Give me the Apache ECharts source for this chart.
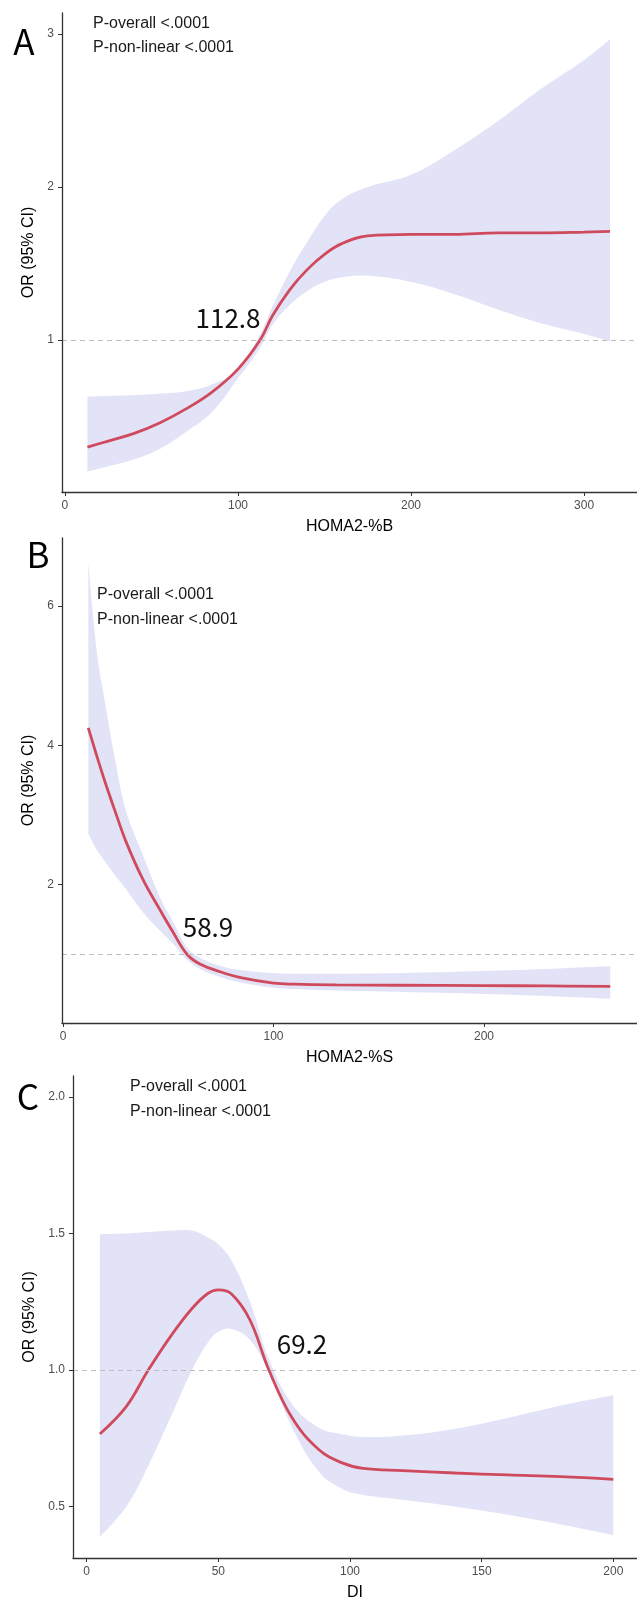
<!DOCTYPE html>
<html>
<head>
<meta charset="utf-8">
<script src="https://cdn.jsdelivr.net/npm/echarts@6/dist/echarts.min.js"></script>
<style>
html, body { margin: 0; padding: 0; background: #fff; }
#main { width: 637px; height: 1604px; }
</style>
</head>
<body>
<div id="main"></div>
<script>
// panel A: HOMA2-%B
var aX = [13, 25, 40, 55, 70, 85, 100, 112.8, 120, 130, 140, 150, 160, 175, 200, 225, 250, 275, 300, 315];
var aOR = [0.30, 0.34, 0.39, 0.46, 0.55, 0.66, 0.81, 1.00, 1.16, 1.33, 1.46, 1.56, 1.63, 1.68, 1.69, 1.69, 1.70, 1.70, 1.705, 1.71];
var aUpper = [0.63, 0.635, 0.64, 0.65, 0.665, 0.71, 0.81, 1.04, 1.22, 1.45, 1.64, 1.81, 1.92, 2.00, 2.08, 2.24, 2.43, 2.64, 2.83, 2.965];
var aLower = [0.14, 0.175, 0.22, 0.29, 0.40, 0.53, 0.75, 0.95, 1.10, 1.23, 1.32, 1.38, 1.41, 1.42, 1.38, 1.30, 1.20, 1.11, 1.04, 0.99];

// panel B: HOMA2-%S
var bX = [12, 16, 20, 25, 30, 38, 46, 52, 58.9, 65, 75, 85, 100, 110, 130, 160, 200, 230, 260];
var bOR = [4.25, 3.85, 3.47, 3.03, 2.61, 2.07, 1.64, 1.33, 1.00, 0.86, 0.745, 0.66, 0.585, 0.57, 0.56, 0.555, 0.55, 0.545, 0.54];
var bUpper = [6.63, 5.35, 4.6, 3.75, 3.05, 2.42, 1.82, 1.48, 1.10, 0.95, 0.83, 0.77, 0.73, 0.72, 0.72, 0.73, 0.76, 0.79, 0.83];
var bLower = [2.73, 2.5, 2.33, 2.12, 1.93, 1.6, 1.34, 1.16, 0.92, 0.79, 0.67, 0.59, 0.52, 0.50, 0.48, 0.46, 0.43, 0.40, 0.36];

// panel C: DI
var cX = [5, 15, 23.4, 32, 40, 46, 50, 55, 62, 69.2, 78, 88, 97, 105, 120, 140, 160, 180, 200];
var cOR = [0.766, 0.866, 1.0, 1.125, 1.225, 1.28, 1.293, 1.278, 1.183, 1.0, 0.825, 0.71, 0.66, 0.64, 0.632, 0.623, 0.616, 0.61, 0.60];
var cUpper = [1.497, 1.50, 1.505, 1.51, 1.51, 1.485, 1.46, 1.40, 1.25, 1.04, 0.875, 0.79, 0.765, 0.755, 0.76, 0.785, 0.825, 0.87, 0.908];
var cLower = [0.39, 0.50, 0.65, 0.83, 1.0, 1.10, 1.14, 1.15, 1.11, 0.99, 0.79, 0.63, 0.565, 0.543, 0.525, 0.50, 0.47, 0.435, 0.396];

// tick labels
var aXTicks = [0, 100, 200, 300], aYTicks = [1, 2, 3];
var bXTicks = [0, 100, 200], bYTicks = [2, 4, 6];
var cXTicks = [0, 50, 100, 150, 200], cYTicks = [0.5, 1.0, 1.5, 2.0];

var xNames = ['HOMA2-%B', 'HOMA2-%S', 'DI'];
var cutoffs = ['112.8', '58.9', '69.2'];
var panelLetters = ['A', 'B', 'C'];

var LINE_COLOR = '#cf4a5c';
var BAND_COLOR = '#e3e3f8';
var AXIS_COLOR = '#333';
var LABEL_FONT = '"Liberation Sans", Arial, sans-serif';
var BIG_FONT = '"Noto Sans CJK SC", "Noto Sans", sans-serif';
var SMOOTH = 0.4;

function pairs(xs, ys) {
    return xs.map(function (x, i) { return [x, ys[i]]; });
}

// same bezier smoothing as the line series, sampled into a dense point list
function smoothPoints(pts, s) {
    var out = [pts[0]];
    var cp0 = pts[0];
    for (var i = 1; i < pts.length; i++) {
        var p = pts[i], prev = pts[i - 1], next = pts[i + 1];
        var cp1 = p, nextCp0 = p;
        if (next) {
            var vx = next[0] - prev[0], vy = next[1] - prev[1];
            var l0 = Math.sqrt(Math.pow(p[0] - prev[0], 2) + Math.pow(p[1] - prev[1], 2));
            var l1 = Math.sqrt(Math.pow(next[0] - p[0], 2) + Math.pow(next[1] - p[1], 2));
            var r = l1 / (l0 + l1);
            cp1 = [p[0] - vx * s * (1 - r), p[1] - vy * s * (1 - r)];
            nextCp0 = [p[0] + vx * s * r, p[1] + vy * s * r];
        }
        for (var k = 1; k <= 16; k++) {
            var t = k / 16, u = 1 - t;
            var a = u * u * u, b = 3 * u * u * t, c = 3 * u * t * t, d = t * t * t;
            out.push([
                a * prev[0] + b * cp0[0] + c * cp1[0] + d * p[0],
                a * prev[1] + b * cp0[1] + c * cp1[1] + d * p[1]
            ]);
        }
        cp0 = nextCp0;
    }
    return out;
}

function makeXAxis(idx, min, max, ticks) {
    return {
        type: 'value', gridIndex: idx, min: min, max: max, z: 5,
        name: xNames[idx], nameLocation: 'middle', nameGap: 27,
        nameTextStyle: { color: '#000', fontSize: 16, fontFamily: LABEL_FONT },
        axisLine: { onZero: false, lineStyle: { color: AXIS_COLOR, width: 1.3 } },
        axisTick: { show: true, length: 4, customValues: ticks, lineStyle: { color: AXIS_COLOR } },
        axisLabel: { customValues: ticks, margin: 8, color: '#4d4d4d', fontSize: 12, fontFamily: LABEL_FONT },
        splitLine: { show: false }
    };
}

function makeYAxis(idx, min, max, ticks, gap, fmt) {
    return {
        type: 'value', gridIndex: idx, min: min, max: max, z: 5,
        name: 'OR (95% CI)', nameLocation: 'middle', nameGap: gap, nameRotate: 90,
        nameTextStyle: { color: '#000', fontSize: 16, fontFamily: LABEL_FONT },
        axisLine: { show: true, onZero: false, lineStyle: { color: AXIS_COLOR, width: 1.3 } },
        axisTick: { show: true, length: 4, customValues: ticks, lineStyle: { color: AXIS_COLOR } },
        axisLabel: { customValues: ticks, margin: 8, color: '#4d4d4d', fontSize: 12, fontFamily: LABEL_FONT, formatter: fmt },
        splitLine: { show: false }
    };
}

function makeSeries(idx, xs, or, upper, lower) {
    return [
        {
            // 95% CI ribbon
            type: 'custom', xAxisIndex: idx, yAxisIndex: idx, silent: true, z: 1,
            data: [[xs[0], upper[0]]],
            renderItem: function (params, api) {
                var up = smoothPoints(xs.map(function (x, i) { return api.coord([x, upper[i]]); }), SMOOTH);
                var lo = smoothPoints(xs.map(function (x, i) { return api.coord([x, lower[i]]); }), SMOOTH);
                return {
                    type: 'polygon',
                    shape: { points: up.concat(lo.reverse()) },
                    style: { fill: BAND_COLOR }
                };
            }
        },
        {
            type: 'line', xAxisIndex: idx, yAxisIndex: idx,
            data: pairs(xs, or), smooth: SMOOTH, symbol: 'none',
            lineStyle: { color: LINE_COLOR, width: 2.8 }, z: 3,
            markLine: {
                silent: true, symbol: 'none', label: { show: false },
                lineStyle: { color: '#bdbdbd', type: [5, 4], width: 1 },
                data: [{ yAxis: 1 }]
            }
        }
    ];
}

function text(x, y, str, font, color, align) {
    return {
        type: 'text', x: x, y: y, z: 10,
        style: { text: str, font: font, fill: color, align: align || 'left', verticalAlign: 'middle' }
    };
}

var chart = echarts.init(document.getElementById('main'));

var option = {
    backgroundColor: '#fff',
    animation: false,
    grid: [
        { left: 62, top: 13, width: 575, height: 479 },
        { left: 62, top: 538, width: 575, height: 485 },
        { left: 73, top: 1076, width: 564, height: 482 }
    ],
    xAxis: [
        makeXAxis(0, -1.7, 330.6, aXTicks),
        makeXAxis(1, -0.5, 272.7, bXTicks),
        makeXAxis(2, -5.2, 209, cXTicks)
    ],
    yAxis: [
        makeYAxis(0, 0.007, 3.137, aYTicks, 21, function (v) { return String(v); }),
        makeYAxis(1, 0.013, 6.976, bYTicks, 21, function (v) { return String(v); }),
        makeYAxis(2, 0.312, 2.076, cYTicks, 32, function (v) { return v.toFixed(1); })
    ],
    series: []
        .concat(makeSeries(0, aX, aOR, aUpper, aLower))
        .concat(makeSeries(1, bX, bOR, bUpper, bLower))
        .concat(makeSeries(2, cX, cOR, cUpper, cLower)),
    graphic: [
        // panel letters
        text(24, 42, panelLetters[0], '35px ' + BIG_FONT, '#000', 'center'),
        text(38, 555, panelLetters[1], '35px ' + BIG_FONT, '#000', 'center'),
        text(28, 1097, panelLetters[2], '35px ' + BIG_FONT, '#000', 'center'),
        // p values
        text(93, 24, 'P-overall <.0001', '16px ' + LABEL_FONT, '#1a1a1a'),
        text(93, 48, 'P-non-linear <.0001', '16px ' + LABEL_FONT, '#1a1a1a'),
        text(97, 595, 'P-overall <.0001', '16px ' + LABEL_FONT, '#1a1a1a'),
        text(97, 620, 'P-non-linear <.0001', '16px ' + LABEL_FONT, '#1a1a1a'),
        text(130, 1087, 'P-overall <.0001', '16px ' + LABEL_FONT, '#1a1a1a'),
        text(130, 1112, 'P-non-linear <.0001', '16px ' + LABEL_FONT, '#1a1a1a'),
        // cutoff values
        text(228, 318, cutoffs[0], '26px ' + BIG_FONT, '#111', 'center'),
        text(208, 927, cutoffs[1], '26px ' + BIG_FONT, '#111', 'center'),
        text(302, 1344, cutoffs[2], '26px ' + BIG_FONT, '#111', 'center')
    ]
};

chart.setOption(option);
</script>
</body>
</html>
